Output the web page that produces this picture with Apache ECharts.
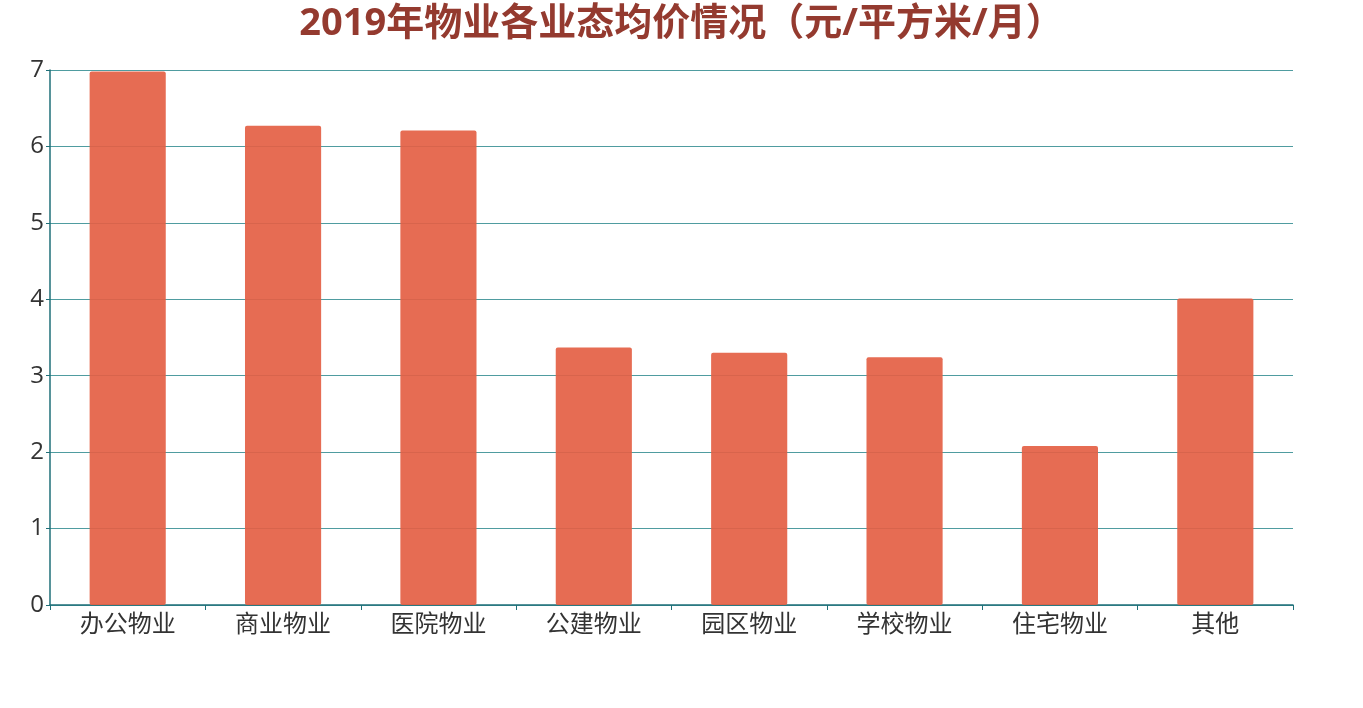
<!DOCTYPE html>
<html>
<head>
<meta charset="utf-8">
<script src="https://cdn.jsdelivr.net/npm/echarts@6/dist/echarts.min.js"></script>
<style>html,body{margin:0;padding:0;background:#fff}#c{width:1363px;height:708px}</style>
</head>
<body>
<div id="c"></div>
<script>
const titleText = '2019年物业各业态均价情况（元/平方米/月）';
const categories = ['办公物业','商业物业','医院物业','公建物业','园区物业','学校物业','住宅物业','其他'];
const values = [6.98, 6.27, 6.21, 3.37, 3.30, 3.24, 2.08, 4.01];
const yTicks = [0,1,2,3,4,5,6,7];

const font = '"Open Sans", "Noto Sans CJK SC", sans-serif';
const chart = echarts.init(document.getElementById('c'));
chart.setOption({
  animation: false,
  title: {
    text: titleText,
    left: 'center',
    top: 0,
    textStyle: {color: '#943a2f', fontSize: 38, fontWeight: 'bold', fontFamily: font}
  },
  grid: {left: 50, right: 70, top: 70, bottom: 103, containLabel: false},
  xAxis: {
    type: 'category',
    data: categories,
    axisLine: {lineStyle: {color: '#1f6f78', width: 1.5}},
    axisTick: {show: true, lineStyle: {color: '#1f6f78'}},
    axisLabel: {color: '#333', fontSize: 24, fontFamily: font, margin: 8}
  },
  yAxis: {
    type: 'value',
    min: yTicks[0],
    max: yTicks[yTicks.length - 1],
    interval: 1,
    axisLine: {show: true, lineStyle: {color: '#1f6f78', width: 1.5}},
    axisTick: {show: true, length: 4, lineStyle: {color: '#1f6f78'}},
    axisLabel: {color: '#333', fontSize: 24, fontFamily: font, margin: 6},
    splitLine: {lineStyle: {color: '#4f9ca0', width: 1.2}}
  },
  series: [{
    type: 'bar',
    data: values,
    barWidth: '49%',
    z: 1,
    itemStyle: {color: '#e45f44', opacity: 0.92, borderRadius: 2}
  }]
});
</script>
</body>
</html>
